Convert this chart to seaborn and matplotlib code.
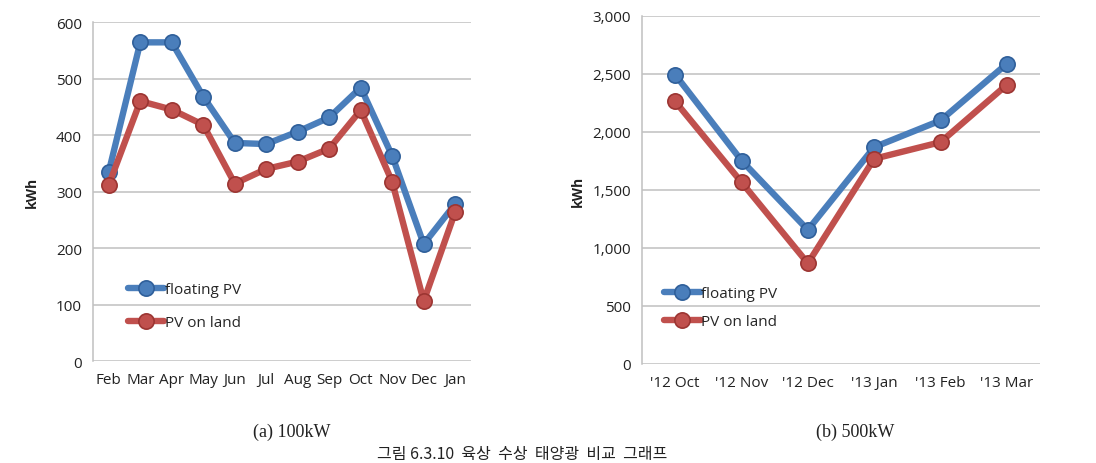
import numpy as np
import pandas as pd
import seaborn as sns
import matplotlib.pyplot as plt

# dane
months_a = ["Feb", "Mar", "Apr", "May", "Jun", "Jul", "Aug", "Sep", "Oct", "Nov", "Dec", "Jan"]
floating_a = [335, 564, 564, 468, 386, 384, 406, 431, 484, 363, 207, 278]
land_a = [312, 460, 445, 418, 314, 340, 353, 376, 444, 317, 106, 264]

months_b = ["'12 Oct", "'12 Nov", "'12 Dec", "'13 Jan", "'13 Feb", "'13 Mar"]
floating_b = [2494, 1754, 1156, 1869, 2099, 2588]
land_b = [2263, 1567, 868, 1769, 1912, 2407]

series_names = ["floating PV", "PV on land"]
colors = {"floating PV": "#4a7ebb", "PV on land": "#c0504d"}
edge_colors = {"floating PV": "#2f5f9a", "PV on land": "#9c3532"}

sns.set_theme(style="whitegrid")
plt.rcParams["font.family"] = ["Open Sans", "DejaVu Sans"]


def long_df(months, floating, land):
    x = np.arange(len(months))
    return pd.DataFrame({
        "x": np.concatenate([x, x]),
        "kWh": floating + land,
        "series": [series_names[0]] * len(months) + [series_names[1]] * len(months),
    })


def draw(ax, months, floating, land, ymax, step, fmt, legend_anchor, spacing, ylab_bold, labelpad):
    df = long_df(months, floating, land)
    for name in series_names:
        sub = df[df["series"] == name]
        sns.lineplot(data=sub, x="x", y="kWh", ax=ax, color=colors[name], linewidth=4.6,
                     marker="o", markersize=11, markerfacecolor=colors[name],
                     markeredgecolor=edge_colors[name], markeredgewidth=1.2, label=name)
    ax.set_xlim(-0.5, len(months) - 0.5)
    ax.set_ylim(0, ymax)
    ax.set_yticks(np.arange(0, ymax + 1, step))
    ax.set_yticklabels([fmt.format(v) for v in np.arange(0, ymax + 1, step)])
    ax.set_xticks(np.arange(len(months)))
    ax.set_xticklabels(months)
    ax.grid(axis="x", visible=False)
    ax.grid(axis="y", color="#c0c0c0", linewidth=1.1)
    ax.set_facecolor("white")
    for s in ["top", "right", "bottom"]:
        ax.spines[s].set_visible(False)
    ax.spines["left"].set_color("#c0c0c0")
    ax.spines["left"].set_linewidth(1.1)
    ax.tick_params(axis="both", length=0, labelsize=11, colors="#222222", pad=8)
    ax.set_xlabel("")
    ax.set_ylabel("kWh", fontsize=10, fontweight="bold" if ylab_bold else "normal",
                  color="#222222", labelpad=labelpad)
    ax.legend(loc="lower left", bbox_to_anchor=legend_anchor, frameon=False,
              fontsize=11, handlelength=2.4, handletextpad=0.05, labelspacing=spacing,
              borderaxespad=0)


fig = plt.figure(figsize=(10.96, 4.64), dpi=100)
ax1 = fig.add_axes([0.0849, 0.2198, 0.3448, 0.7306])
ax2 = fig.add_axes([0.5858, 0.2134, 0.3631, 0.7500])

draw(ax1, months_a, floating_a, land_a, 600, 100, "{:d}", (0.075, 0.072), 1.2, True, 12)
draw(ax2, months_b, floating_b, land_b, 3000, 500, "{:,d}", (0.04, 0.083), 0.85, True, 5)

fig.text(0.266, 0.069, "(a) 100kW", ha="center", va="center", fontsize=13,
         family=["Liberation Serif", "DejaVu Serif"], color="#222222")
fig.text(0.780, 0.069, "(b) 500kW", ha="center", va="center", fontsize=13,
         family=["Liberation Serif", "DejaVu Serif"], color="#222222")
fig.text(0.476, 0.003, "그림 6.3.10  육상  수상  태양광  비교  그래프", ha="center", va="bottom",
         fontsize=11.5, family=["Noto Sans CJK KR", "DejaVu Sans"], color="#222222")

fig.savefig("out.png", dpi=100, facecolor="white")
